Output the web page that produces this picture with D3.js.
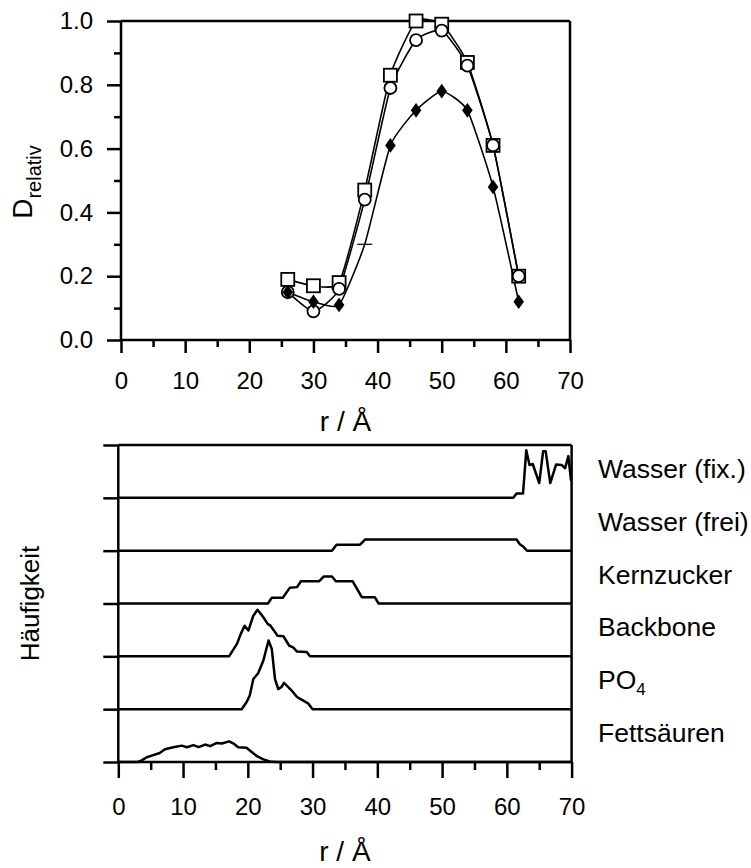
<!DOCTYPE html>
<html>
<head>
<meta charset="utf-8">
<script src="https://cdn.jsdelivr.net/npm/d3@7"></script>
<style>
  html, body { margin: 0; padding: 0; background: #fff; }
  svg { display: block; font-family: "Liberation Sans", Arial, sans-serif; }
</style>
</head>
<body>
<svg id="chart" width="751" height="868"></svg>
<script>
// ---------- DATA: top panel ----------
const rTop = [26, 30, 34, 38, 42, 46, 50, 54, 58, 62];
const dSquare  = [0.19, 0.17, 0.18, 0.47, 0.83, 1.00, 0.99, 0.87, 0.61, 0.20];
const dCircle  = [0.15, 0.09, 0.16, 0.44, 0.79, 0.94, 0.97, 0.86, 0.61, 0.20];
const dDiamond = [0.15, 0.12, 0.11, 0.30, 0.61, 0.72, 0.78, 0.72, 0.48, 0.12];
const diamondDashIndex = [3]; // point drawn as a short dash
const topYTicks = [0, 0.2, 0.4, 0.6, 0.8, 1.0];
const topYMinor = [0.1, 0.3, 0.5, 0.7, 0.9];
const xTicks = [0, 10, 20, 30, 40, 50, 60, 70];
const xMinor = [5, 15, 25, 35, 45, 55, 65];

// ---------- DATA: bottom panel (r, relative frequency per row) ----------
const categories = ["Fettsäuren", "PO4", "Backbone", "Kernzucker", "Wasser (frei)", "Wasser (fix.)"];
const profFett = [[0,0],[3.0,0],[3.6,0.03],[4.4,0.09],[5.4,0.13],[6.4,0.17],[7.2,0.24],[8.5,0.28],[9.8,0.31],[10.6,0.28],[11.6,0.32],[12.4,0.28],[13.4,0.33],[14.2,0.30],[15.2,0.36],[16.0,0.35],[17.1,0.39],[17.8,0.35],[18.5,0.28],[19.8,0.27],[20.6,0.19],[21.4,0.11],[22.4,0.05],[23.4,0.01],[24.4,0],[70,0]];
const profPO4 = [[0,0],[19.05,0],[19.8,0.13],[20.3,0.26],[20.85,0.57],[21.6,0.68],[22.4,0.92],[23.2,1.30],[23.7,1.14],[24.2,0.57],[24.7,0.38],[25.2,0.42],[25.6,0.50],[26.3,0.41],[26.8,0.35],[27.6,0.23],[28.3,0.18],[29.3,0.11],[30.0,0],[70,0]];
const profBackbone = [[0,0],[17.1,0],[18.3,0.23],[18.9,0.42],[19.5,0.58],[20.1,0.49],[20.85,0.77],[21.5,0.88],[22.4,0.74],[23.1,0.61],[23.5,0.58],[24.6,0.39],[25.5,0.38],[26.4,0.20],[27.0,0.17],[27.6,0.09],[29.1,0.08],[29.6,0],[70,0]];
const profKern = [[0,0],[23.1,0],[23.7,0.11],[25.4,0.11],[26.5,0.30],[27.6,0.31],[28.2,0.42],[31.0,0.42],[31.7,0.51],[33.0,0.51],[33.6,0.42],[36.2,0.42],[37.6,0.12],[39.6,0.12],[40.2,0],[70,0]];
const profFrei = [[0,0],[33.0,0],[33.7,0.11],[37.3,0.11],[38.1,0.21],[61.5,0.21],[62.0,0.12],[62.5,0.08],[63.1,0],[70,0]];
const profFix = [[0,0],[61.0,0],[61.5,0.08],[62.5,0.08],[63.0,0.90],[63.5,0.62],[64.0,0.64],[65.0,0.28],[65.6,0.88],[66.0,0.88],[66.7,0.28],[67.6,0.63],[68.5,0.62],[69.0,0.56],[69.5,0.79],[69.9,0.34],[70,0.32]];
const profiles = [profFett, profPO4, profBackbone, profKern, profFrei, profFix];
const rowTicks = [0, 1, 2, 3, 4, 5, 6];

// ---------- SETUP ----------
const svg = d3.select("#chart");
const FONT_TICK = 24;
const AX_W = 2.5;

// ===== TOP PANEL =====
const xT = d3.scaleLinear().domain([0, 70]).range([121, 570]);
const yT = d3.scaleLinear().domain([0, 1]).range([340, 21]);

function styleAxis(g) {
  g.selectAll("path.domain").remove();
  g.selectAll(".tick line").attr("stroke", "#000").attr("stroke-width", AX_W);
  g.selectAll("text").attr("fill", "#000").attr("font-size", FONT_TICK).attr("font-family", "Liberation Sans, Arial, sans-serif");
}

const topG = svg.append("g");
topG.append("line").attr("x1", xT(0)).attr("x2", xT(0)).attr("y1", yT(1)).attr("y2", yT(0)).attr("stroke", "#000").attr("stroke-width", AX_W);
topG.append("line").attr("x1", xT(0)).attr("x2", xT(70)).attr("y1", yT(0)).attr("y2", yT(0)).attr("stroke", "#000").attr("stroke-width", AX_W);
topG.append("line").attr("x1", xT(0)).attr("x2", xT(70)).attr("y1", yT(1)).attr("y2", yT(1)).attr("stroke", "#000").attr("stroke-width", AX_W);
topG.append("line").attr("x1", xT(70)).attr("x2", xT(70)).attr("y1", yT(1)).attr("y2", yT(0)).attr("stroke", "#000").attr("stroke-width", AX_W);

topG.append("g").attr("transform", `translate(${xT(0)},0)`)
  .call(d3.axisLeft(yT).tickValues(topYTicks).tickSize(14).tickPadding(14).tickFormat(d3.format(".1f")))
  .call(styleAxis);
topG.append("g").attr("transform", `translate(${xT(0)},0)`)
  .call(d3.axisLeft(yT).tickValues(topYMinor).tickSize(7).tickFormat(""))
  .call(styleAxis);
topG.append("g").attr("transform", `translate(0,${yT(0)})`)
  .call(d3.axisBottom(xT).tickValues(xTicks).tickSize(13).tickPadding(19))
  .call(styleAxis);
topG.append("g").attr("transform", `translate(0,${yT(0)})`)
  .call(d3.axisBottom(xT).tickValues(xMinor).tickSize(7).tickFormat(""))
  .call(styleAxis);

// series lines
const lineT = d3.line().x(d => xT(d[0])).y(d => yT(d[1])).curve(d3.curveCardinal.tension(0.5));
const zipT = arr => rTop.map((r, i) => [r, arr[i]]);
[dSquare, dCircle, dDiamond].forEach(arr => {
  topG.append("path").datum(zipT(arr)).attr("d", lineT)
    .attr("fill", "none").attr("stroke", "#000").attr("stroke-width", 1.6);
});
// markers
topG.selectAll("rect.sq").data(zipT(dSquare)).join("rect").attr("class", "sq")
  .attr("x", d => xT(d[0]) - 6.5).attr("y", d => yT(d[1]) - 6.5)
  .attr("width", 13).attr("height", 13)
  .attr("fill", "#fff").attr("stroke", "#000").attr("stroke-width", 1.8);
topG.selectAll("circle.ci").data(zipT(dCircle)).join("circle").attr("class", "ci")
  .attr("cx", d => xT(d[0])).attr("cy", d => yT(d[1])).attr("r", 6)
  .attr("fill", "#fff").attr("stroke", "#000").attr("stroke-width", 1.8);
const diamondSym = d3.symbol().type(d3.symbolDiamond).size(62);
topG.selectAll("path.di").data(zipT(dDiamond).filter((d, i) => !diamondDashIndex.includes(i))).join("path").attr("class", "di")
  .attr("transform", d => `translate(${xT(d[0])},${yT(d[1])}) scale(1.25,1)`)
  .attr("d", diamondSym).attr("fill", "#000");
topG.selectAll("line.dash").data(zipT(dDiamond).filter((d, i) => diamondDashIndex.includes(i))).join("line").attr("class", "dash")
  .attr("x1", d => xT(d[0]) - 7.5).attr("x2", d => xT(d[0]) + 7.5)
  .attr("y1", d => yT(d[1])).attr("y2", d => yT(d[1]))
  .attr("stroke", "#000").attr("stroke-width", 1.2);

// titles
topG.append("text").attr("x", (xT(0) + xT(70)) / 2).attr("y", 431).attr("text-anchor", "middle")
  .attr("font-size", 28).text("r / Å");
const dl = topG.append("text").attr("transform", `translate(32,182) rotate(-90)`).attr("text-anchor", "middle");
dl.append("tspan").attr("font-size", 28).text("D");
dl.append("tspan").attr("font-size", 20).attr("dy", 9).text("relativ");

// ===== BOTTOM PANEL =====
const xB = d3.scaleLinear().domain([0, 70]).range([118.3, 571.6]);
const yRow = d3.scaleLinear().domain([0, 6]).range([762, 445]);
const botG = svg.append("g");

botG.append("line").attr("x1", xB(0)).attr("x2", xB(0)).attr("y1", yRow(6)).attr("y2", yRow(0)).attr("stroke", "#000").attr("stroke-width", AX_W);
botG.append("line").attr("x1", xB(70)).attr("x2", xB(70)).attr("y1", yRow(6)).attr("y2", yRow(0)).attr("stroke", "#000").attr("stroke-width", AX_W);
botG.append("line").attr("x1", xB(0)).attr("x2", xB(70)).attr("y1", yRow(6)).attr("y2", yRow(6)).attr("stroke", "#000").attr("stroke-width", AX_W);
botG.append("line").attr("x1", xB(0)).attr("x2", xB(70)).attr("y1", yRow(0)).attr("y2", yRow(0)).attr("stroke", "#000").attr("stroke-width", AX_W);

botG.append("g").attr("transform", `translate(${xB(0)},0)`)
  .call(d3.axisLeft(yRow).tickValues(rowTicks).tickSize(15).tickFormat(""))
  .call(styleAxis);
botG.append("g").attr("transform", `translate(0,${yRow(0)})`)
  .call(d3.axisBottom(xB).tickValues(xTicks).tickSize(16).tickPadding(20))
  .call(styleAxis);
botG.append("g").attr("transform", `translate(0,${yRow(0)})`)
  .call(d3.axisBottom(xB).tickValues(xMinor).tickSize(8).tickFormat(""))
  .call(styleAxis);

profiles.forEach((prof, i) => {
  const ln = d3.line().x(d => xB(d[0])).y(d => yRow(i + d[1]));
  botG.append("path").datum(prof).attr("d", ln)
    .attr("fill", "none").attr("stroke", "#000").attr("stroke-width", 2.5).attr("stroke-linejoin", "round");
});

// category labels
categories.forEach((c, i) => {
  const t = botG.append("text").attr("x", 598).attr("y", yRow(i) - 20).attr("font-size", 26.5);
  if (c === "PO4") {
    t.append("tspan").text("PO");
    t.append("tspan").attr("font-size", 17).attr("dy", 6).text("4");
  } else {
    t.text(c);
  }
});

botG.append("text").attr("x", (xB(0) + xB(70)) / 2).attr("y", 861).attr("text-anchor", "middle")
  .attr("font-size", 28).text("r / Å");
botG.append("text").attr("transform", `translate(39,${(yRow(0) + yRow(6)) / 2}) rotate(-90)`)
  .attr("text-anchor", "middle").attr("font-size", 26).text("Häufigkeit");
</script>
</body>
</html>
